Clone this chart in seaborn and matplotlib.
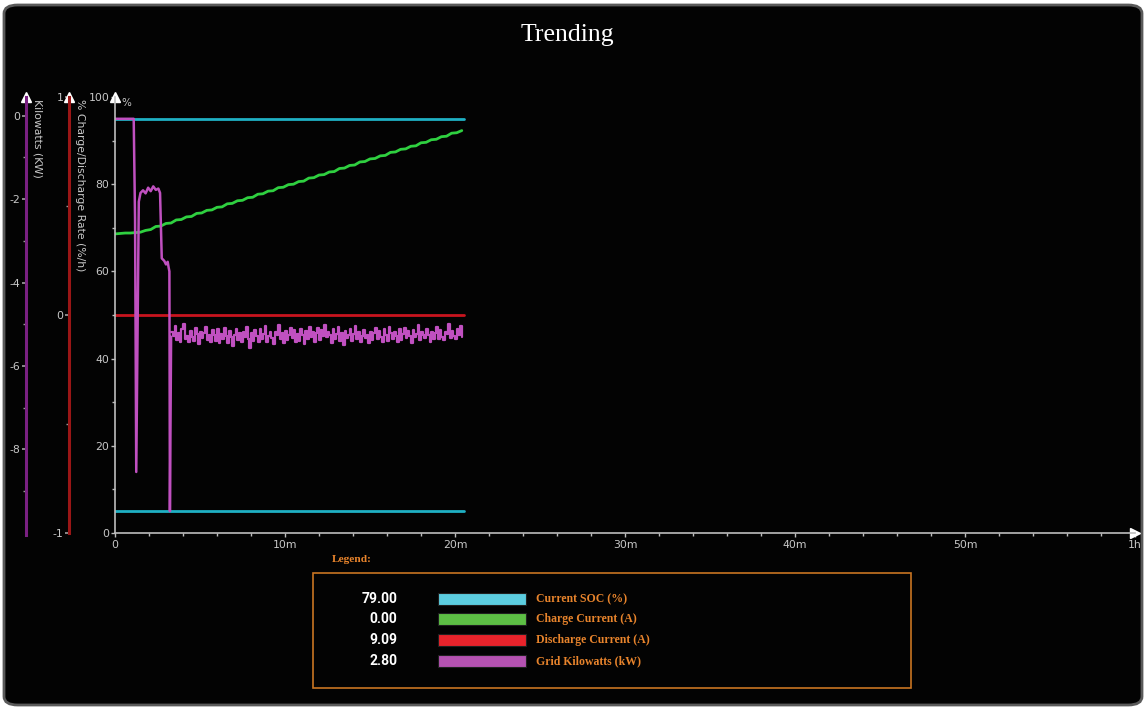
import numpy as np
import pandas as pd
import matplotlib
matplotlib.use("Agg")
import matplotlib.pyplot as plt
from matplotlib.patches import FancyBboxPatch, Rectangle
from matplotlib.ticker import MultipleLocator, FixedLocator
import seaborn as sns

# ---------------- data ----------------
x_ticks = [0, 10, 20, 30, 40, 50, 60]
x_tick_labels = ["0", "10m", "20m", "30m", "40m", "50m", "1h"]
pct_ticks = [0, 20, 40, 60, 80, 100]
kw_ticks = [0, -2, -4, -6, -8]
rate_ticks = [1, 0, -1]

span_t = [0.0, 20.5]
soc_high = [95.0, 95.0]
soc_low = [5.0, 5.0]
discharge = [50.0, 50.0]

charge_t = [0.0, 0.3, 0.6, 0.9, 1.2, 1.5, 1.8, 2.1, 2.4, 2.7, 3.0, 3.3, 3.6, 3.9, 4.2, 4.5,
            4.8, 5.1, 5.4, 5.7, 6.0, 6.3, 6.6, 6.9, 7.2, 7.5, 7.8, 8.1, 8.4, 8.7, 9.0, 9.3,
            9.6, 9.9, 10.2, 10.5, 10.8, 11.1, 11.4, 11.7, 12.0, 12.3, 12.6, 12.9, 13.2, 13.5,
            13.8, 14.1, 14.4, 14.7, 15.0, 15.3, 15.6, 15.9, 16.2, 16.5, 16.8, 17.1, 17.4,
            17.7, 18.0, 18.3, 18.6, 18.9, 19.2, 19.5, 19.8, 20.1, 20.4]
charge = [68.6, 68.7, 68.8, 68.8, 68.9, 69.0, 69.4, 69.6, 70.3, 70.4, 71.0, 71.1, 71.8, 71.9,
          72.5, 72.6, 73.3, 73.4, 74.0, 74.1, 74.7, 74.8, 75.5, 75.6, 76.2, 76.3, 76.9, 77.0,
          77.7, 77.8, 78.4, 78.5, 79.2, 79.3, 79.9, 80.0, 80.6, 80.7, 81.4, 81.5, 82.1, 82.2,
          82.8, 82.9, 83.6, 83.7, 84.3, 84.4, 85.1, 85.2, 85.8, 85.9, 86.5, 86.6, 87.3, 87.4,
          88.0, 88.1, 88.7, 88.8, 89.5, 89.6, 90.2, 90.3, 90.9, 91.0, 91.7, 91.8, 92.3]

grid_head_t = [0.0, 1.1, 1.18, 1.25, 1.4, 1.5, 1.65, 1.8, 1.95, 2.1, 2.25, 2.4, 2.55,
               2.65, 2.75, 2.9, 3.0, 3.1, 3.15, 3.2, 3.23, 3.3]
grid_head = [95.0, 95.0, 72.0, 14.0, 76.0, 78.0, 78.6, 77.9, 79.2, 78.4, 79.5, 78.7, 79.0,
             78.0, 63.0, 62.4, 61.6, 62.2, 61.0, 60.0, 5.0, 45.0]
grid_noise = [46.2, 45.1, 47.5, 44.3, 45.8, 43.9, 46.7, 47.9, 44.6, 45.2, 43.7, 46.4, 45.0, 44.1, 47.1, 45.6, 43.4, 46.0, 44.8, 45.9,
              47.3, 44.2, 45.4, 43.8, 46.6, 45.3, 44.0, 46.9, 43.5, 45.7, 44.4, 47.0, 45.1, 43.6, 46.3, 44.9, 42.9, 45.5, 46.8, 44.3,
              45.9, 43.7, 46.1, 45.0, 47.2, 44.6, 42.5, 45.8, 44.1, 46.5, 45.2, 43.9, 46.7, 44.4, 45.6, 47.4, 43.8, 45.1, 46.2, 44.7,
              43.3, 46.0, 45.4, 47.6, 44.5, 45.9, 43.6, 46.4, 44.2, 45.3, 47.1, 44.8, 46.6, 43.7, 45.7, 44.0, 46.9, 45.5, 43.4, 46.3,
              44.6, 47.3, 45.0, 46.1, 43.9, 45.8, 47.0, 44.3, 46.5, 45.2, 47.8, 44.9, 46.0, 45.4, 43.6, 46.8, 44.5, 45.6, 47.2, 44.1,
              45.9, 43.2, 46.4, 44.7, 45.3, 46.9, 44.0, 45.7, 47.5, 44.4, 46.2, 43.8, 45.1, 46.6, 44.8, 45.5, 43.5, 46.0, 44.2, 45.8,
              47.1, 44.6, 46.3, 45.0, 43.7, 46.7, 45.4, 44.1, 47.3, 45.9, 44.5, 46.1, 45.2, 43.9, 46.8, 44.3, 45.6, 47.0, 44.8, 46.4,
              45.1, 43.6, 46.5, 44.9, 45.7, 47.6, 44.2, 46.0, 45.3, 44.7, 46.9, 45.5, 43.8, 46.2, 44.4, 45.8, 47.2, 44.6, 46.6, 45.0,
              44.3, 46.1, 45.6, 47.9, 44.8, 46.4, 45.2, 44.5, 46.7, 45.4, 47.4, 44.9]

legend_names = ["Current SOC (%)", "Charge Current (A)", "Discharge Current (A)", "Grid Kilowatts (kW)"]
legend_values = ["79.00", "0.00", "9.09", "2.80"]
legend_colors = ["#5ccde0", "#5dbf45", "#e8232b", "#b552b2"]

# ---------------- figure ----------------
W, H = 1146, 709
sns.set_theme(style="dark")
plt.rcParams["font.family"] = ["DejaVu Sans"]
plt.rcParams["axes.unicode_minus"] = False
fig = plt.figure(figsize=(W / 100, H / 100), dpi=100, facecolor="white")


def fx(px):
    return px / W


def fy(py):
    return 1 - py / H


frame = FancyBboxPatch((fx(4), fy(705)), fx(1138), 1 - 9 / H,
                       boxstyle="round,pad=0,rounding_size=0.012",
                       transform=fig.transFigure, facecolor="#030303",
                       edgecolor="#5a5a5a", linewidth=2.0, zorder=-5)
fig.patches.append(frame)

fig.text(fx(567), fy(35), "Trending", ha="center", va="center", color="white",
         fontsize=18.5, family=["Liberation Serif", "DejaVu Serif"])

label_c = "#c8c8c8"
tick_fs = 7.8

# main axes
ax_l, ax_r, ax_t, ax_b = 115, 1135, 97, 533
ax = fig.add_axes([fx(ax_l), fy(ax_b), fx(ax_r - ax_l), (ax_b - ax_t) / H])
ax.set_facecolor("none")

df_span = pd.DataFrame({"t": span_t, "hi": soc_high, "lo": soc_low, "dis": discharge})
df_charge = pd.DataFrame({"t": charge_t, "v": charge})
df_head = pd.DataFrame({"t": grid_head_t, "v": grid_head})
df_noise = pd.DataFrame({"t": 3.3 + 0.1 * np.arange(len(grid_noise)), "v": grid_noise})

sns.lineplot(data=df_span, x="t", y="hi", ax=ax, color="#1fb0c4", linewidth=2.0)
sns.lineplot(data=df_span, x="t", y="lo", ax=ax, color="#1fb0c4", linewidth=2.0)
sns.lineplot(data=df_span, x="t", y="dis", ax=ax, color="#c8141e", linewidth=2.0)
sns.lineplot(data=df_charge, x="t", y="v", ax=ax, color="#2fd040", linewidth=2.0)
sns.lineplot(data=df_head, x="t", y="v", ax=ax, color="#c050c0", linewidth=1.8)
sns.lineplot(data=df_noise, x="t", y="v", ax=ax, color="#c050c0", linewidth=1.6,
             drawstyle="steps-post")

ax.set_xlim(0, 60)
ax.set_ylim(0, 100)
ax.set_xlabel("")
ax.set_ylabel("")
ax.grid(False)
for s in ["top", "right"]:
    ax.spines[s].set_visible(False)
for s in ["left", "bottom"]:
    ax.spines[s].set_visible(True)
    ax.spines[s].set_color("#bdbdbd")
    ax.spines[s].set_linewidth(1.2)
ax.set_xticks(x_ticks)
ax.set_xticklabels(x_tick_labels)
ax.xaxis.set_minor_locator(MultipleLocator(2))
ax.set_yticks(pct_ticks)
ax.yaxis.set_minor_locator(MultipleLocator(10))
ax.tick_params(axis="both", which="both", colors="#bdbdbd", labelcolor=label_c,
               labelsize=tick_fs, direction="out", bottom=True, left=True)
ax.tick_params(which="major", length=3, width=1)
ax.tick_params(which="minor", length=2, width=1)
ax.tick_params(axis="x", pad=2)
ax.tick_params(axis="y", pad=1)
ax.plot([0], [1], marker="^", color="white", markersize=7, transform=ax.transAxes, clip_on=False)
ax.plot([1], [0], marker=">", color="white", markersize=7, transform=ax.transAxes, clip_on=False)
fig.text(fx(121), fy(103), "%", color=label_c, fontsize=7.5, va="center", ha="left")


def side_axis(px, lo, hi, top_px, bot_px, color, major, minor):
    a = fig.add_axes([fx(px), fy(bot_px), 0.0001, (bot_px - top_px) / H])
    a.set_facecolor("none")
    a.set_ylim(lo, hi)
    a.set_xticks([])
    a.grid(False)
    for s in ["top", "right", "bottom"]:
        a.spines[s].set_visible(False)
    a.spines["left"].set_visible(True)
    a.spines["left"].set_color(color)
    a.spines["left"].set_linewidth(2.2)
    a.yaxis.set_major_locator(FixedLocator(major))
    a.yaxis.set_minor_locator(FixedLocator(minor))
    a.tick_params(axis="y", which="both", colors="#9a9a9a", labelcolor=label_c,
                  labelsize=tick_fs, direction="out", left=True, pad=1)
    a.tick_params(which="major", length=3)
    a.tick_params(which="minor", length=2)
    a.plot([0], [1], marker="^", color="white", markersize=7, transform=a.transAxes, clip_on=False)
    return a


side_axis(26, -10.05, 0.45, 97, 535, "#7a2082", kw_ticks, [-1, -3, -5, -7, -9])
side_axis(69, -1, 1, 97, 533, "#9a1616", rate_ticks, [0.5, -0.5])
fig.text(fx(37), fy(99), "Kilowatts (KW)", rotation=270, color=label_c, fontsize=7.8,
         ha="center", va="top")
fig.text(fx(80), fy(99), "% Charge/Discharge Rate (%/h)", rotation=270, color=label_c,
         fontsize=7.8, ha="center", va="top")

# legend panel
serif = ["Liberation Serif", "DejaVu Serif"]
orange = "#e8842c"
fig.text(fx(332), fy(560), "Legend:", color=orange, fontsize=8.2, fontweight="bold",
         family=serif, ha="left", va="center")
fig.patches.append(Rectangle((fx(313), fy(688)), fx(911 - 313), (688 - 573) / H,
                             transform=fig.transFigure, facecolor="none",
                             edgecolor="#c87422", linewidth=1.2))
row_y = [599, 619, 640, 661]
for yv, name, val, col in zip(row_y, legend_names, legend_values, legend_colors):
    fig.text(fx(397), fy(yv), val, color="white", fontsize=10, fontweight="bold",
             ha="right", va="center", family=["Liberation Sans Narrow", "Roboto", "DejaVu Sans"],
             fontstretch="condensed")
    fig.patches.append(Rectangle((fx(438), fy(yv + 6)), fx(88), 12 / H,
                                 transform=fig.transFigure, facecolor=col,
                                 edgecolor="#202020", linewidth=0.8))
    fig.text(fx(536), fy(yv), name, color=orange, fontsize=8.5, fontweight="bold",
             ha="left", va="center", family=serif)

fig.savefig("out.png", dpi=100, facecolor="white")
